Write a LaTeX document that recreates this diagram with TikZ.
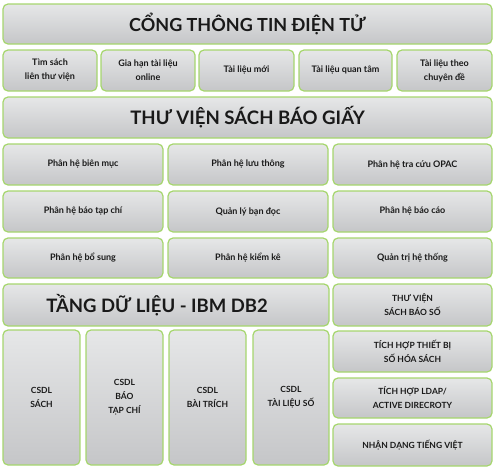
\documentclass[tikz,border=0pt]{standalone}
\usepackage{fontspec}
\setmainfont{Lato}
\definecolor{boxgreen}{HTML}{A6D66E}
\definecolor{boxtop}{HTML}{E6E7E8}
\definecolor{boxbot}{HTML}{C5C6C8}
\tikzset{
    blk/.style={draw=boxgreen,line width=1.2pt,rounded corners=5pt,
        top color=boxtop,bottom color=boxbot,align=center,inner sep=0pt,
        text=black!90},
    small/.style={font=\fontsize{9}{14}\selectfont\bfseries},
    caps/.style={font=\fontsize{8.5}{14}\selectfont\bfseries}
}
\begin{document}
\begin{tikzpicture}[x=1pt,y=-1pt]
    \useasboundingbox (0,0) rectangle (499,471);
    % box from (x1,y1) to (x2,y2)
    \def\blkbox(#1,#2,#3,#4)#5#6#7{
        \node[blk,#6,minimum width={(#3-#1)*1pt},minimum height={(#4-#2)*1pt}]
            (#5) at ({(#1+#3)/2},{(#2+#4)/2}) {#7};}
    %===========================================
    \blkbox(3,4,492,44){cong}{font=\fontsize{18}{22}\selectfont\bfseries}{CỔNG THÔNG TIN ĐIỆN TỬ}
    \foreach \nm/\xa/\xb/\txt in {tim/3/97/{Tìm sách\\liên thư viện},
            giahan/101/195/{Gia hạn tài liệu\\online},
            moi/199/294/{Tài liệu mới},
            quantam/299/392/{Tài liệu quan tâm},
            chuyende/397/492/{Tài liệu theo\\chuyên đề}}
        \blkbox(\xa,50,\xb,91){\nm}{small}{\txt};
    %===========================================
    \blkbox(3,97,492,138){giay}{font=\fontsize{18.6}{22}\selectfont\bfseries}{THƯ VIỆN SÁCH BÁO GIẤY}
    \foreach \nm/\xa/\xb/\ya/\yb/\txt in {bienmuc/3/163/144/185/{Phân hệ biên mục},
            luuthong/168/328/144/185/{Phân hệ lưu thông},
            opac/333/492/144/185/{Phân hệ tra cứu OPAC},
            baotapchi/3/163/191/232/{Phân hệ báo tạp chí},
            bandoc/168/328/191/232/{Quản lý bạn đọc},
            baocao/333/492/191/232/{Phân hệ báo cáo},
            bosung/3/163/238/278/{Phân hệ bổ sung},
            kiemke/168/328/238/278/{Phân hệ kiểm kê},
            quantri/333/492/238/278/{Quản trị hệ thống}}
        \blkbox(\xa,\ya,\xb,\yb){\nm}{small}{\txt};
    %===========================================
    \blkbox(3,284,329,326){dulieu}{font=\fontsize{18.5}{22}\selectfont\bfseries}{TẦNG DỮ LIỆU - IBM DB2\hspace{18pt}}
    \blkbox(333,284,492,326){sobao}{caps}{THƯ VIỆN\\SÁCH BÁO SỐ}
    \foreach \nm/\xa/\xb/\txt in {sach/3/80/{CSDL\\SÁCH},
            tapchi/86/163/{CSDL\\BÁO\\TẠP CHÍ},
            baitrich/169/246/{CSDL\\BÀI TRÍCH},
            tailieuso/253/329/{CSDL\\TÀI LIỆU SỐ}}
        \blkbox(\xa,330,\xb,465){\nm}{caps}{\txt};
    \foreach \nm/\ya/\yb/\txt in {thietbi/331/372/{TÍCH HỢP THIẾT BỊ\\SỐ HÓA SÁCH},
            ldap/378/418/{TÍCH HỢP LDAP/\\ACTIVE DIRECROTY},
            tiengviet/424/466/{NHẬN DẠNG TIẾNG VIỆT}}
        \blkbox(333,\ya,492,\yb){\nm}{caps}{\txt};
\end{tikzpicture}
\end{document}
